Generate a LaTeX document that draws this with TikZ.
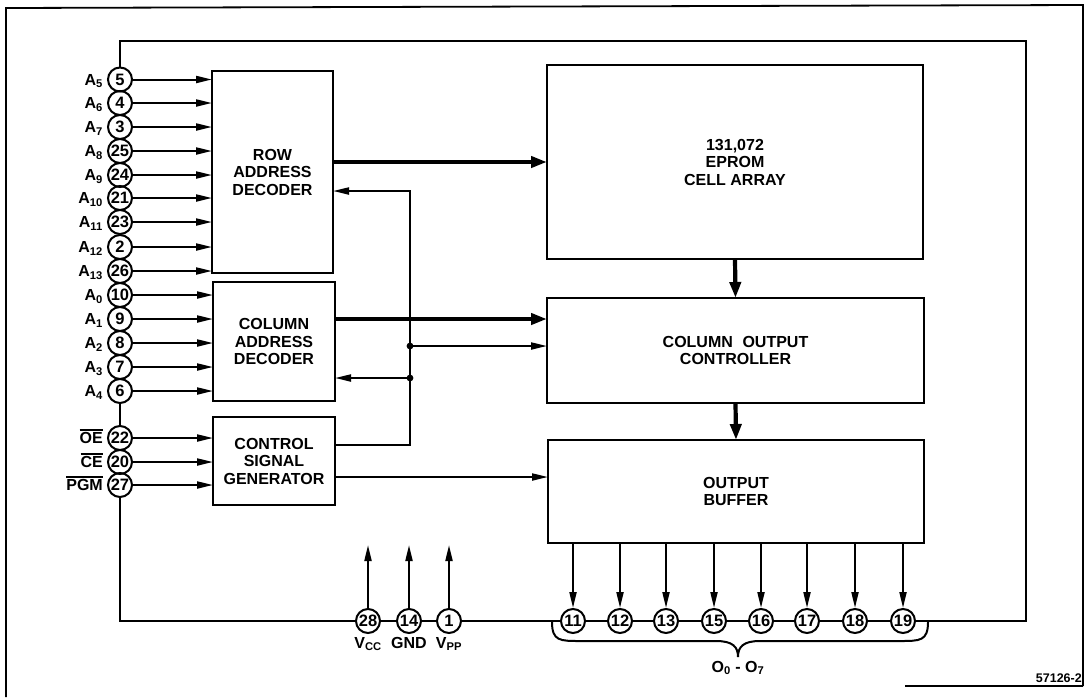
\documentclass[tikz,border=0pt]{standalone}
\usepackage{fontspec}
\setmainfont{Liberation Sans}
\usetikzlibrary{arrows.meta}
\newcommand\myovl[1]{\leavevmode\vbox{\hrule height 1.4pt\kern 1.6pt\hbox{#1}}}
\begin{document}
\begin{tikzpicture}[x=1pt,y=-1pt,
 box/.style={draw,line width=2.7pt,inner sep=0pt,outer sep=0pt,align=center,font=\fontsize{16}{17.5}\selectfont\bfseries},
 pin/.style={draw,circle,line width=2pt,minimum size=24pt,inner sep=0pt,font=\fontsize{16.5}{16.5}\selectfont\bfseries},
 wire/.style={line width=2pt},
 arr/.style={wire,-{Triangle[length=16pt,width=7pt]}},
 thickarr/.style={line width=4.2pt,-{Triangle[length=16pt,width=11pt]}},
 lab/.style={font=\fontsize{16}{17.5}\selectfont\bfseries,inner sep=0pt}]
\useasboundingbox (0,0) rectangle (1086,697);
% outer frame
\draw[line width=1.8pt] (6,697) -- (6,8) -- (1083,5) -- (1083,686);
\draw[line width=1.8pt] (905,686) -- (1083,686);
% boxes
\node[box,minimum width=121pt,minimum height=202pt] (row) at (272.5,172) {ROW\\ADDRESS\\DECODER};
\node[box,minimum width=122pt,minimum height=119pt] (coldec) at (274,341.5) {COLUMN\\ADDRESS\\DECODER};
\node[box,minimum width=122pt,minimum height=88pt] (ctrl) at (274,461) {CONTROL\\SIGNAL\\GENERATOR};
\node[box,minimum width=376pt,minimum height=194pt] (eprom) at (735,162) {131,072\\EPROM\\CELL ARRAY};
\node[box,minimum width=377pt,minimum height=105pt] (colout) at (735.5,350.5) {COLUMN\hspace{0.6em}OUTPUT\\CONTROLLER};
\node[box,minimum width=376pt,minimum height=103pt] (buf) at (736,491.5) {OUTPUT\\BUFFER};
% left pins: row address
\foreach \n/\y/\s in {5/79.5/5,4/103/6,3/127/7,25/151/8,24/175/9,21/198/10,23/222/11,2/247/12,26/271/13}{
 \node[pin] (pin\n) at (120,\y) {\n};
 \node[lab,anchor=base east] at (103,\y+5.5) {A\textsubscript{\s}};
 \draw[arr] (pin\n) -- (pin\n -| row.west);
}
\foreach \n/\y/\s in {10/295/0,9/319/1,8/343/2,7/367/3,6/391/4}{
 \node[pin] (pin\n) at (120,\y) {\n};
 \node[lab,anchor=base east] at (103,\y+5.5) {A\textsubscript{\s}};
 \draw[arr] (pin\n) -- (pin\n -| coldec.west);
}
\foreach \n/\y/\s in {22/438/OE,20/462/CE,27/485/PGM}{
 \node[pin] (pin\n) at (120,\y) {\n};
 \node[lab,anchor=base east] at (103,\y+5.5) {\myovl{\s}};
 \draw[arr] (pin\n) -- (pin\n -| ctrl.west);
}
% power pins
\foreach \n/\x in {28/368,14/409,1/449}{
 \node[pin] (pin\n) at (\x,621) {\n};
 \coordinate (up\n) at (\x,545);
 \draw[arr] (pin\n) -- (up\n);
}
\node[lab,anchor=north] at (368,637) {V\textsubscript{CC}};
\node[lab,anchor=north] at (409,637) {GND};
\node[lab,anchor=north] at (449,637) {V\textsubscript{PP}};
% output pins
\foreach \n/\x in {11/573,12/620,13/666,15/714,16/761,17/807,18/855,19/903}{
 \node[pin] (pin\n) at (\x,621) {\n};
 \draw[arr] (buf.south -| pin\n) -- (pin\n);
}
% chip outline wires
\coordinate (TR) at (1026,41);
\draw[wire] (pin5) |- (TR) -- (TR |- pin19) -- (pin19);
\draw[wire] (pin6) -- (pin22);
\draw[wire] (pin27) |- (pin28);
\draw[wire] (pin28) -- (pin14);
\draw[wire] (pin14) -- (pin1);
\draw[wire] (pin1) -- (pin11);
\draw[wire] (pin11) -- (pin12);
\draw[wire] (pin12) -- (pin13);
\draw[wire] (pin13) -- (pin15);
\draw[wire] (pin15) -- (pin16);
\draw[wire] (pin16) -- (pin17);
\draw[wire] (pin17) -- (pin18);
\draw[wire] (pin18) -- (pin19);
% internal connections
\draw[thickarr] (eprom.west -| row.east) -- (eprom.west);
\coordinate (k1) at (450,319);
\draw[thickarr] (k1 -| coldec.east) -- (k1 -| colout.west);
\draw[thickarr] (eprom.south) -- (colout.north);
\draw[thickarr] (colout.south) -- (buf.north);
\coordinate (c1) at (410,445);
\coordinate (c2) at (410,191);
\coordinate (j1) at (410,346);
\coordinate (j2) at (410,378);
\draw[arr] (c1 -| ctrl.east) -- (c1) -- (c2) -- (c2 -| row.east);
\draw[arr] (j1) -- (j1 -| colout.west);
\draw[arr] (j2) -- (j2 -| coldec.east);
\fill (j1) circle (3.4);
\fill (j2) circle (3.4);
\coordinate (k2) at (450,477);
\draw[arr] (k2 -| ctrl.east) -- (k2 -| buf.west);
% brace
\coordinate (bl) at (552,622);
\coordinate (br) at (928,622);
\coordinate (bt) at (738,657);
\draw[wire] (bl) .. controls (552,641) and (560,641) .. (580,641) -- (716,641) .. controls (733,641) and (738,647) .. (bt);
\draw[wire] (br) .. controls (928,641) and (920,641) .. (900,641) -- (760,641) .. controls (743,641) and (738,647) .. (bt);
\node[lab,anchor=north] at (738,661) {O\textsubscript{0} - O\textsubscript{7}};
\node[font=\fontsize{12.5}{12.5}\selectfont\bfseries,inner sep=0pt,anchor=base east] at (1082,682) {57126-2};
\end{tikzpicture}
\end{document}
